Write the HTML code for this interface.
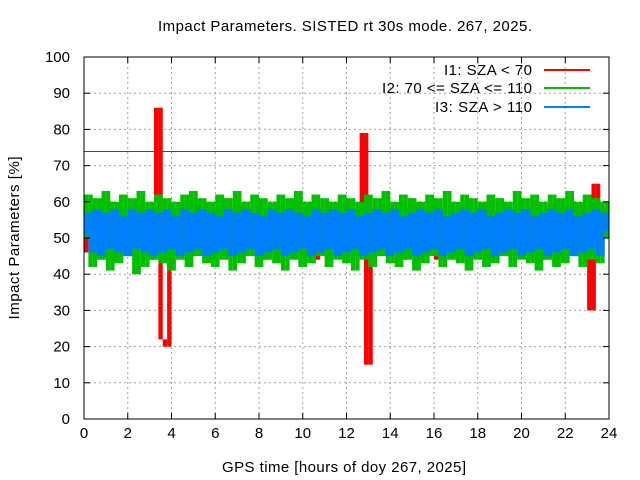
<!DOCTYPE html>
<html><head><meta charset="utf-8"><style>
body{margin:0;background:#fff}
svg{display:block;font-family:"Liberation Sans",sans-serif}
</style></head><body>
<svg id="chart" width="640" height="480">
<text x="345" y="31" font-size="15" textLength="374" text-anchor="middle">Impact Parameters. SISTED rt 30s mode. 267, 2025.</text>
<text x="344" y="472" font-size="15" textLength="244" text-anchor="middle">GPS time [hours of doy 267, 2025]</text>
<text transform="translate(19,238) rotate(-90)" font-size="15" textLength="163" text-anchor="middle">Impact Parameters [%]</text>
<g id="grid"></g><g id="series"></g><g id="axes"></g>
<g font-size="15" text-anchor="end">
<text x="532" y="75" textLength="88">I1: SZA &lt; 70</text>
<line x1="544" y1="70" x2="590" y2="70" stroke="#ff0000" stroke-width="2"/>
<text x="532" y="93" textLength="150">I2: 70 &lt;= SZA &lt;= 110</text>
<line x1="544" y1="88" x2="590" y2="88" stroke="#00c000" stroke-width="2"/>
<text x="532" y="112" textLength="97">I3: SZA &gt; 110</text>
<line x1="544" y1="107" x2="590" y2="107" stroke="#0080ff" stroke-width="2"/>
</g>
</svg>
<script>
const xTicks=[0,2,4,6,8,10,12,14,16,18,20,22,24];
const yTicks=[0,10,20,30,40,50,60,70,80,90,100];
const threshold=74;
const i1Values=[56,46,59,45,57,47,60,44,58,46,55,45,59,47,57,44,58,86,22,20,58,46,59,47,56,45,60,46,57,44,58,47,59,45,57,46,60,45,58,47,56,44,59,46,57,45,58,47,60,46,57,45,59,44,58,46,56,47,59,45,57,46,58,45,79,15,58,46,57,45,59,47,56,44,58,46,60,45,57,46,59,44,58,47,56,45,59,46,57,45,58,47,60,44,57,46,59,45,58,47,56,45,59,46,57,44,58,46,59,45,57,47,58,45,59,46,30,65,46,58,50];
const i2Values=[50,62,42,61,44,63,41,60,43,62,45,61,40,63,42,60,44,62,43,61,41,60,44,62,42,63,45,61,43,60,42,62,44,61,41,63,43,60,45,62,42,61,44,60,43,62,41,61,44,63,42,60,43,62,45,61,42,60,44,62,43,61,41,60,44,62,42,61,45,63,43,60,42,62,44,61,41,60,43,62,45,61,42,63,44,60,43,62,41,61,44,60,42,62,43,61,45,60,42,63,44,61,43,62,41,60,44,62,42,61,43,63,45,60,42,62,44,61,43,60,50];
const i3Values=[51,57,46,58,45,57,47,58,46,56,45,58,47,57,46,58,45,57,46,58,47,56,45,58,46,57,47,58,45,57,46,56,47,58,45,57,46,58,47,57,45,56,46,58,47,57,45,58,46,57,47,56,45,58,46,57,47,58,45,57,46,58,47,56,45,57,46,58,47,57,45,58,46,56,47,57,45,58,46,57,47,58,45,56,46,57,47,58,45,57,46,58,47,56,45,57,46,58,47,57,45,58,46,56,47,57,45,58,46,57,47,58,45,56,46,57,47,58,45,57,52];
const X0=84,X1=609,Y0=419,Y1=57;
const xs=v=>X0+(v-0)/24*(X1-X0);
const ys=v=>Y0-(v/100)*(Y0-Y1);
const NS="http://www.w3.org/2000/svg";
function mk(tag,attrs,parent){const e=document.createElementNS(NS,tag);for(const k in attrs)e.setAttribute(k,attrs[k]);parent.appendChild(e);return e;}
const grid=document.getElementById('grid'),axes=document.getElementById('axes'),series=document.getElementById('series');
xTicks.forEach(t=>{
 if(t>0&&t<24){const g=mk('line',{x1:xs(t),x2:xs(t),y1:Y1,y2:Y0,stroke:'#a0a0a0','stroke-dasharray':'2,3'},grid);
 
 }
 const tk=mk('line',{x1:xs(t),x2:xs(t),y1:Y0,y2:Y0-6,stroke:'#000'},axes);
 
 
 mk('line',{x1:xs(t),x2:xs(t),y1:Y1,y2:Y1+6,stroke:'#000'},axes);
 const l=mk('text',{x:xs(t),y:Y0+19,'font-size':15,'text-anchor':'middle'},axes);l.textContent=t;
 
 
});
yTicks.forEach(t=>{
 if(t>0&&t<100){const g=mk('line',{x1:X0,x2:X1,y1:ys(t),y2:ys(t),stroke:'#a0a0a0','stroke-dasharray':'2,3'},grid);
 
 }
 const tk=mk('line',{x1:X0,x2:X0+6,y1:ys(t),y2:ys(t),stroke:'#000'},axes);
 
 
 mk('line',{x1:X1,x2:X1-6,y1:ys(t),y2:ys(t),stroke:'#000'},axes);
 const l=mk('text',{x:X0-14,y:ys(t)+5,'font-size':15,'text-anchor':'end'},axes);l.textContent=t;
 
 
});
const frame=mk('rect',{x:X0,y:Y1,width:X1-X0,height:Y0-Y1,fill:'none',stroke:'#000'},axes);


function drawSeries(vals,color,name){
 const n=vals.length;
 const g=mk('g',{fill:color},series);
 
 
 for(let i=0;i<n-1;i++){
  const xa=xs(i*24/(n-1)),xb=xs((i+1)*24/(n-1));
  const hi=Math.max(vals[i],vals[i+1]),lo=Math.min(vals[i],vals[i+1]);
  const r=mk('rect',{x:xa.toFixed(2),y:ys(hi).toFixed(2),width:(xb-xa).toFixed(2),height:(ys(lo)-ys(hi)).toFixed(2)},g);
  
  
 }
}
drawSeries(i1Values,'#ff0000','series-i1');
drawSeries(i2Values,'#00c000','series-i2');
drawSeries(i3Values,'#0080ff','series-i3');
const ty=Math.round(ys(threshold))+0.5;
const th=mk('line',{x1:X0,x2:X1,y1:ty,y2:ty,stroke:'#a000f0','stroke-width':1},series);


</script>
</body></html>
